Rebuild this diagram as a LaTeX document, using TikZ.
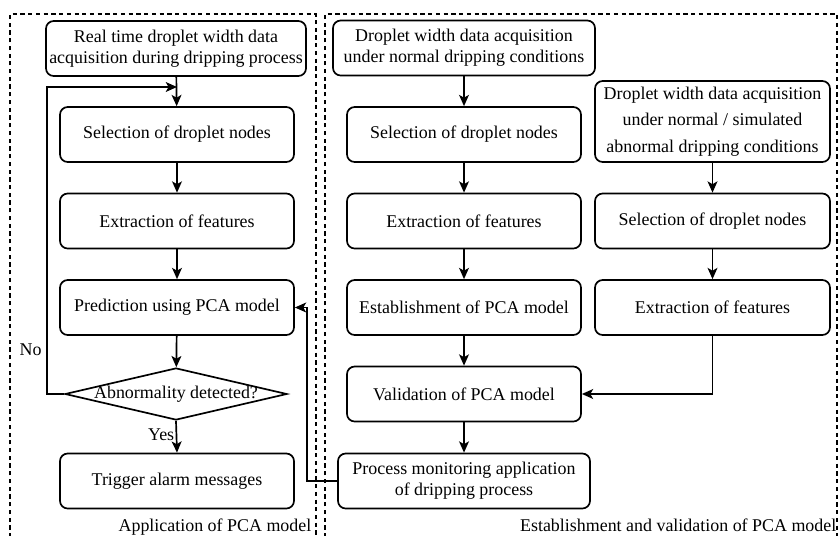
\documentclass[tikz,border=0pt]{standalone}
\usepackage{fontspec}
\setmainfont{Liberation Serif}
\usetikzlibrary{shapes.geometric,arrows.meta}
\begin{document}
\begin{tikzpicture}[x=0.025cm,y=-0.025cm,>={Stealth[length=8pt,width=7pt,inset=2pt]},
    font=\fontsize{12.75}{15}\selectfont,
    box/.style={draw,line width=1.2pt,rounded corners=5.5pt,align=center,
        minimum width=5.85cm,minimum height=1.375cm,inner sep=2pt},
    frame/.style={line width=1.1pt,dash pattern=on 3pt off 2.5pt},
    link/.style={line width=1.2pt}]
\useasboundingbox (0,0) rectangle (838,535);
% dashed frames
\draw[frame] (10,545)--(10,14)--(316,14)--(316,545);
\draw[frame] (325,545)--(325,14)--(837,14)--(837,545);
\node[anchor=base east,inner sep=1pt] (appl) at (313,531) {Application of PCA model};
\node[anchor=base east,inner sep=1pt] (estl) at (838,531) {Establishment and validation of PCA model};

% application of the model
\node[box,minimum width=6.5cm] (L1) at (176,48.5) {Real time droplet width data\\acquisition during dripping process};
\node[box] (L2) at (177,134.5) {Selection of droplet nodes};
\node[box] (L3) at (177,221) {Extraction of features};
\node[box] (L4) at (177,307.5) {Prediction using PCA model};
\node[draw,diamond,line width=1.2pt,minimum width=5.55cm,minimum height=1.3cm,
    inner sep=0pt,aspect=4] (dec) at (176,394) {\makebox[0pt]{Abnormality detected?}};
\node[box] (L5) at (177,481) {Trigger alarm messages};
\coordinate (join) at (177,87);

% establishment and validation
\node[box,minimum width=6.55cm] (R1) at (464,48) {Droplet width data acquisition\\under normal dripping conditions};
\node[box] (R2) at (464,134.5) {Selection of droplet nodes};
\node[box] (R3) at (464,221) {Extraction of features};
\node[box] (R4) at (464,307.5) {Establishment of PCA model};
\node[box] (R5) at (464,394) {Validation of PCA model};
\node[box,minimum width=6.3cm] (R6) at (464,481) {Process monitoring application\\of dripping process};

\node[box,minimum width=5.875cm,minimum height=2.025cm] (S1) at (712.5,121.5)
    {Droplet width data acquisition\\[4pt]under normal / simulated\\[4pt]abnormal dripping conditions};
\node[box,minimum width=5.875cm] (S2) at (712.5,221) {Selection of droplet nodes};
\node[box,minimum width=5.875cm] (S3) at (712.5,307.5) {Extraction of features};

\foreach \a/\b in {L2/L3,L3/L4,L4/dec,R1/R2,R2/R3,R3/R4,R4/R5,R5/R6,S1/S2,S2/S3}
{
    \draw[link,->] (\a) -- (\b);
}
\draw[link,->] (L1) -- (L2);
\draw[link,->] (dec.south) -- node[left,pos=0.45,inner sep=1pt] (yes) {Yes} (L5.north);
\draw[link,->] (dec.west) -| (47,350) node[left] (no) {No} |- (join);
\draw[link,->] (S3.south) |- (R5.east);
\draw[link,->] (R6.west) -| (307,400) |- (L4.east);
\end{tikzpicture}
\end{document}
